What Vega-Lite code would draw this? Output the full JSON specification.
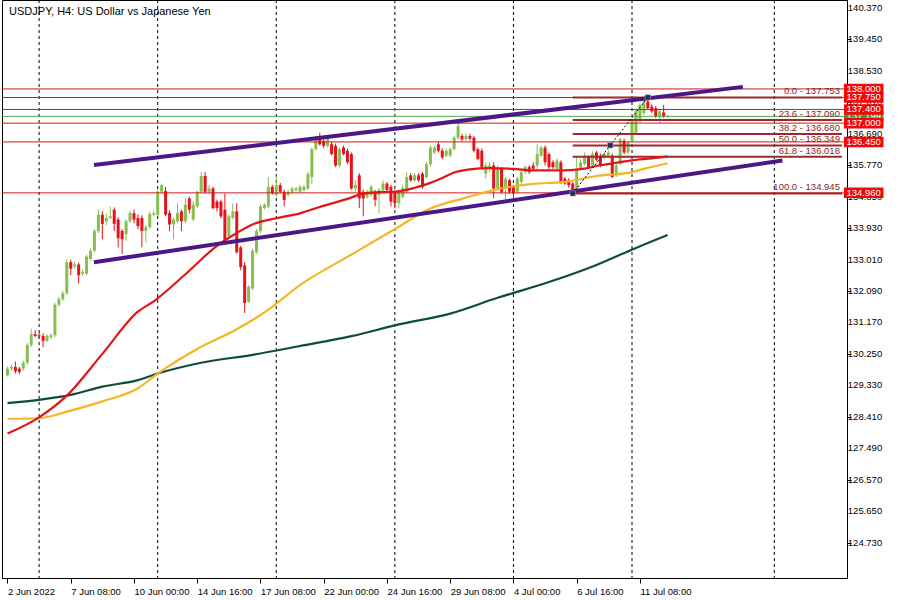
{
"$schema": "https://vega.github.io/schema/vega-lite/v6.json",
"width": 845, "height": 578,
"autosize": {"type": "none"},
"padding": {"left": 2, "top": 0, "right": 53, "bottom": 22},
"background": "#ffffff",
"config": {"view": {"stroke": "#000000", "strokeWidth": 1}, "font": "Liberation Sans", "axis": {"labelOverlap": false, "labelFlush": false, "zindex": 0, "grid": false, "title": null}},
"datasets": {
"candles": [
{"i":-8,"o":129.625,"h":129.875,"l":129.588,"c":129.818},
{"i":-7,"o":129.818,"h":129.933,"l":129.760,"c":129.867},
{"i":-6,"o":129.867,"h":130.028,"l":129.674,"c":129.740},
{"i":-5,"o":129.818,"h":129.875,"l":129.654,"c":129.723},
{"i":-4,"o":129.818,"h":130.048,"l":129.760,"c":129.990},
{"i":-3,"o":129.990,"h":130.565,"l":129.933,"c":130.508},
{"i":-2,"o":130.508,"h":130.988,"l":130.450,"c":130.824},
{"i":-1,"o":130.824,"h":130.948,"l":130.738,"c":130.775},
{"i":0,"o":130.795,"h":130.882,"l":130.709,"c":130.767},
{"i":1,"o":130.775,"h":130.853,"l":130.442,"c":130.631},
{"i":2,"o":130.631,"h":130.824,"l":130.594,"c":130.775},
{"i":3,"o":130.729,"h":130.853,"l":130.680,"c":130.795},
{"i":4,"o":130.795,"h":131.744,"l":130.738,"c":131.687},
{"i":5,"o":131.687,"h":131.917,"l":131.629,"c":131.851},
{"i":6,"o":131.851,"h":132.089,"l":131.802,"c":132.023},
{"i":7,"o":132.023,"h":133.009,"l":131.974,"c":132.932},
{"i":8,"o":132.932,"h":133.009,"l":132.549,"c":132.742},
{"i":9,"o":132.808,"h":132.952,"l":132.750,"c":132.865},
{"i":10,"o":132.865,"h":132.923,"l":132.311,"c":132.549},
{"i":11,"o":132.598,"h":132.722,"l":132.520,"c":132.644},
{"i":12,"o":132.598,"h":133.153,"l":132.549,"c":133.095},
{"i":13,"o":133.029,"h":133.326,"l":132.980,"c":133.268},
{"i":14,"o":133.268,"h":133.901,"l":133.219,"c":133.843},
{"i":15,"o":133.843,"h":134.467,"l":133.786,"c":134.323},
{"i":16,"o":134.323,"h":134.418,"l":133.604,"c":134.053},
{"i":17,"o":134.131,"h":134.361,"l":134.016,"c":134.225},
{"i":18,"o":134.225,"h":134.562,"l":134.188,"c":134.274},
{"i":19,"o":134.467,"h":134.533,"l":133.843,"c":134.053},
{"i":20,"o":134.179,"h":134.246,"l":133.363,"c":133.633},
{"i":21,"o":133.843,"h":133.901,"l":133.173,"c":133.604},
{"i":22,"o":133.748,"h":134.188,"l":133.556,"c":134.131},
{"i":23,"o":134.131,"h":134.438,"l":134.073,"c":134.369},
{"i":24,"o":134.369,"h":134.476,"l":134.073,"c":134.179},
{"i":25,"o":134.225,"h":134.332,"l":133.901,"c":133.987},
{"i":26,"o":134.225,"h":134.303,"l":133.363,"c":133.843},
{"i":27,"o":133.843,"h":134.016,"l":133.507,"c":133.958},
{"i":28,"o":133.958,"h":134.418,"l":133.901,"c":134.340},
{"i":29,"o":134.323,"h":134.447,"l":134.274,"c":134.369},
{"i":30,"o":134.323,"h":135.051,"l":134.274,"c":134.993},
{"i":31,"o":134.993,"h":135.232,"l":134.936,"c":135.186},
{"i":32,"o":135.013,"h":135.137,"l":134.274,"c":134.323},
{"i":33,"o":134.369,"h":134.447,"l":133.843,"c":134.036},
{"i":34,"o":134.036,"h":134.246,"l":133.604,"c":134.179},
{"i":35,"o":134.131,"h":134.657,"l":134.073,"c":134.369},
{"i":36,"o":134.418,"h":134.476,"l":133.843,"c":134.131},
{"i":37,"o":134.131,"h":134.800,"l":134.073,"c":134.611},
{"i":38,"o":134.800,"h":134.849,"l":134.361,"c":134.467},
{"i":39,"o":134.179,"h":134.706,"l":134.131,"c":134.611},
{"i":40,"o":134.562,"h":135.022,"l":134.504,"c":134.993},
{"i":41,"o":134.993,"h":135.568,"l":134.936,"c":135.453},
{"i":42,"o":135.453,"h":135.568,"l":134.936,"c":134.993},
{"i":43,"o":134.993,"h":135.194,"l":134.936,"c":135.088},
{"i":44,"o":135.088,"h":135.137,"l":134.476,"c":134.513},
{"i":45,"o":134.706,"h":134.763,"l":134.418,"c":134.513},
{"i":46,"o":134.706,"h":134.763,"l":134.217,"c":134.274},
{"i":47,"o":134.467,"h":134.944,"l":133.498,"c":133.556},
{"i":48,"o":133.699,"h":134.332,"l":133.642,"c":134.274},
{"i":49,"o":134.225,"h":134.657,"l":134.188,"c":134.418},
{"i":50,"o":134.418,"h":134.657,"l":133.182,"c":133.219},
{"i":51,"o":133.363,"h":133.412,"l":132.693,"c":132.788},
{"i":52,"o":132.837,"h":132.923,"l":131.448,"c":131.736},
{"i":53,"o":131.782,"h":132.262,"l":131.736,"c":132.213},
{"i":54,"o":132.167,"h":133.326,"l":132.118,"c":133.268},
{"i":55,"o":133.219,"h":133.901,"l":133.182,"c":133.843},
{"i":56,"o":133.843,"h":134.619,"l":133.786,"c":134.562},
{"i":57,"o":134.513,"h":134.657,"l":134.476,"c":134.611},
{"i":58,"o":134.562,"h":135.424,"l":134.504,"c":135.137},
{"i":59,"o":135.137,"h":135.194,"l":134.907,"c":134.944},
{"i":60,"o":134.898,"h":135.473,"l":134.849,"c":135.186},
{"i":61,"o":135.186,"h":135.252,"l":134.936,"c":134.993},
{"i":62,"o":134.993,"h":135.051,"l":134.562,"c":134.754},
{"i":63,"o":134.898,"h":135.051,"l":134.849,"c":134.993},
{"i":64,"o":134.993,"h":135.137,"l":134.936,"c":135.088},
{"i":65,"o":135.042,"h":135.137,"l":134.993,"c":135.088},
{"i":66,"o":134.993,"h":135.194,"l":134.964,"c":135.137},
{"i":67,"o":135.042,"h":135.194,"l":134.993,"c":135.137},
{"i":68,"o":135.088,"h":135.568,"l":135.051,"c":135.519},
{"i":69,"o":135.424,"h":136.287,"l":135.223,"c":136.238},
{"i":70,"o":136.238,"h":136.632,"l":136.201,"c":136.575},
{"i":71,"o":136.575,"h":136.718,"l":136.344,"c":136.382},
{"i":72,"o":136.480,"h":136.546,"l":136.258,"c":136.336},
{"i":73,"o":136.336,"h":136.632,"l":136.287,"c":136.575},
{"i":74,"o":136.382,"h":136.459,"l":136.057,"c":136.094},
{"i":75,"o":136.336,"h":136.402,"l":135.712,"c":135.761},
{"i":76,"o":135.761,"h":136.287,"l":135.712,"c":136.238},
{"i":77,"o":136.287,"h":136.344,"l":136.057,"c":136.094},
{"i":78,"o":136.192,"h":136.258,"l":135.798,"c":135.856},
{"i":79,"o":136.094,"h":136.143,"l":135.051,"c":135.088},
{"i":80,"o":135.088,"h":135.338,"l":134.993,"c":135.194},
{"i":81,"o":135.473,"h":135.539,"l":134.513,"c":134.800},
{"i":82,"o":134.993,"h":135.051,"l":134.274,"c":134.800},
{"i":83,"o":134.849,"h":135.051,"l":134.792,"c":134.993},
{"i":84,"o":134.898,"h":135.194,"l":134.849,"c":135.137},
{"i":85,"o":134.993,"h":135.051,"l":134.562,"c":134.754},
{"i":86,"o":134.898,"h":135.108,"l":134.369,"c":135.042},
{"i":87,"o":135.042,"h":135.330,"l":134.993,"c":135.232},
{"i":88,"o":135.232,"h":135.281,"l":134.993,"c":135.042},
{"i":89,"o":135.137,"h":135.194,"l":134.562,"c":134.706},
{"i":90,"o":134.993,"h":135.051,"l":134.504,"c":134.657},
{"i":91,"o":134.657,"h":135.051,"l":134.513,"c":134.993},
{"i":92,"o":134.849,"h":135.194,"l":134.792,"c":135.108},
{"i":93,"o":134.993,"h":135.568,"l":134.936,"c":135.424},
{"i":94,"o":135.473,"h":135.539,"l":135.281,"c":135.330},
{"i":95,"o":135.330,"h":135.539,"l":135.281,"c":135.473},
{"i":96,"o":135.473,"h":135.539,"l":135.281,"c":135.330},
{"i":97,"o":135.519,"h":135.568,"l":135.079,"c":135.137},
{"i":98,"o":135.424,"h":135.856,"l":135.376,"c":135.798},
{"i":99,"o":135.798,"h":136.344,"l":135.712,"c":136.287},
{"i":100,"o":136.143,"h":136.344,"l":136.094,"c":136.287},
{"i":101,"o":136.382,"h":136.459,"l":136.143,"c":136.192},
{"i":102,"o":136.192,"h":136.258,"l":135.942,"c":135.999},
{"i":103,"o":136.048,"h":136.258,"l":135.999,"c":136.192},
{"i":104,"o":136.048,"h":136.287,"l":135.999,"c":136.238},
{"i":105,"o":136.238,"h":136.632,"l":136.201,"c":136.575},
{"i":106,"o":136.575,"h":137.006,"l":136.517,"c":136.911},
{"i":107,"o":136.623,"h":136.689,"l":136.480,"c":136.526},
{"i":108,"o":136.526,"h":136.689,"l":136.488,"c":136.623},
{"i":109,"o":136.623,"h":136.689,"l":136.488,"c":136.546},
{"i":110,"o":136.575,"h":136.632,"l":136.143,"c":136.192},
{"i":111,"o":136.238,"h":136.287,"l":135.913,"c":135.951},
{"i":112,"o":136.192,"h":136.258,"l":135.654,"c":135.712},
{"i":113,"o":135.519,"h":135.856,"l":135.376,"c":135.761},
{"i":114,"o":135.663,"h":135.856,"l":135.568,"c":135.761},
{"i":115,"o":135.761,"h":135.856,"l":134.800,"c":135.088},
{"i":116,"o":135.088,"h":135.769,"l":135.042,"c":135.663},
{"i":117,"o":135.663,"h":135.712,"l":134.936,"c":134.993},
{"i":118,"o":135.088,"h":135.424,"l":134.754,"c":135.376},
{"i":119,"o":135.330,"h":135.376,"l":134.936,"c":134.993},
{"i":120,"o":135.137,"h":135.194,"l":134.754,"c":134.944},
{"i":121,"o":134.993,"h":135.424,"l":134.936,"c":135.376},
{"i":122,"o":135.281,"h":135.626,"l":135.223,"c":135.568},
{"i":123,"o":135.568,"h":135.769,"l":135.511,"c":135.712},
{"i":124,"o":135.712,"h":135.769,"l":135.511,"c":135.568},
{"i":125,"o":135.761,"h":135.856,"l":135.626,"c":135.663},
{"i":126,"o":135.761,"h":136.382,"l":135.654,"c":136.094},
{"i":127,"o":136.048,"h":136.344,"l":135.999,"c":136.287},
{"i":128,"o":136.287,"h":136.344,"l":135.761,"c":135.856},
{"i":129,"o":136.094,"h":136.143,"l":135.654,"c":135.712},
{"i":130,"o":135.856,"h":135.913,"l":135.654,"c":135.712},
{"i":131,"o":135.663,"h":135.971,"l":135.626,"c":135.905},
{"i":132,"o":135.856,"h":135.913,"l":135.223,"c":135.281},
{"i":133,"o":135.376,"h":135.424,"l":135.194,"c":135.232},
{"i":134,"o":135.330,"h":135.396,"l":135.108,"c":135.186},
{"i":135,"o":135.232,"h":135.281,"l":134.945,"c":134.993},
{"i":136,"o":135.042,"h":135.999,"l":134.993,"c":135.663},
{"i":137,"o":135.663,"h":135.951,"l":135.626,"c":135.856},
{"i":138,"o":135.807,"h":136.143,"l":135.769,"c":136.048},
{"i":139,"o":135.999,"h":136.057,"l":135.683,"c":135.712},
{"i":140,"o":135.761,"h":136.172,"l":135.712,"c":136.094},
{"i":141,"o":136.143,"h":136.192,"l":135.884,"c":135.933},
{"i":142,"o":136.048,"h":136.114,"l":135.712,"c":135.761},
{"i":143,"o":135.999,"h":136.143,"l":135.942,"c":136.094},
{"i":144,"o":136.048,"h":136.229,"l":135.971,"c":136.143},
{"i":145,"o":136.048,"h":136.114,"l":135.396,"c":135.424},
{"i":146,"o":135.473,"h":135.856,"l":135.424,"c":135.761},
{"i":147,"o":135.807,"h":136.575,"l":135.769,"c":136.526},
{"i":148,"o":136.480,"h":136.546,"l":136.086,"c":136.143},
{"i":149,"o":136.143,"h":136.488,"l":136.086,"c":136.431},
{"i":150,"o":136.480,"h":137.121,"l":136.431,"c":137.055},
{"i":151,"o":136.718,"h":137.408,"l":136.661,"c":137.342},
{"i":152,"o":137.055,"h":137.581,"l":137.006,"c":137.532},
{"i":153,"o":137.293,"h":137.725,"l":137.236,"c":137.630},
{"i":154,"o":137.630,"h":137.753,"l":137.380,"c":137.437},
{"i":155,"o":137.486,"h":137.552,"l":137.293,"c":137.342},
{"i":156,"o":137.437,"h":137.495,"l":137.150,"c":137.198},
{"i":157,"o":137.198,"h":137.408,"l":137.006,"c":137.342},
{"i":158,"o":137.313,"h":137.532,"l":137.150,"c":137.198},
{"i":159,"o":137.198,"h":137.236,"l":137.164,"c":137.199}
],
"ma": [
{"k":"teal","i":-8,"v":128.811},{"k":"teal","i":0,"v":128.906},{"k":"teal","i":8,"v":129.050},{"k":"teal","i":16,"v":129.292},{"k":"teal","i":25,"v":129.481},{"k":"teal","i":30,"v":129.674},{"k":"teal","i":41,"v":129.990},{"k":"teal","i":54,"v":130.220},{"k":"teal","i":66,"v":130.479},{"k":"teal","i":79,"v":130.767},{"k":"teal","i":91,"v":131.112},{"k":"teal","i":104,"v":131.428},{"k":"teal","i":116,"v":131.890},{"k":"teal","i":129,"v":132.350},{"k":"teal","i":141,"v":132.850},{"k":"teal","i":151,"v":133.350},{"k":"teal","i":159,"v":133.728},
{"k":"orange","i":-8,"v":128.351},{"k":"orange","i":0,"v":128.366},{"k":"orange","i":8,"v":128.590},{"k":"orange","i":16,"v":128.860},{"k":"orange","i":25,"v":129.243},{"k":"orange","i":30,"v":129.674},{"k":"orange","i":40,"v":130.393},{"k":"orange","i":50,"v":130.968},{"k":"orange","i":58,"v":131.543},{"k":"orange","i":66,"v":132.262},{"k":"orange","i":79,"v":133.153},{"k":"orange","i":90,"v":133.901},{"k":"orange","i":99,"v":134.504},{"k":"orange","i":108,"v":134.821},{"k":"orange","i":115,"v":135.042},{"k":"orange","i":125,"v":135.223},{"k":"orange","i":133,"v":135.281},{"k":"orange","i":141,"v":135.453},{"k":"orange","i":150,"v":135.568},{"k":"orange","i":153,"v":135.663},{"k":"orange","i":159,"v":135.827},
{"k":"red","i":-8,"v":127.920},{"k":"red","i":0,"v":128.394},{"k":"red","i":7,"v":129.027},{"k":"red","i":16,"v":130.249},{"k":"red","i":25,"v":131.485},{"k":"red","i":29,"v":131.787},{"k":"red","i":37,"v":132.578},{"k":"red","i":45,"v":133.412},{"k":"red","i":50,"v":133.786},{"k":"red","i":54,"v":134.036},{"k":"red","i":60,"v":134.217},{"k":"red","i":66,"v":134.361},{"k":"red","i":71,"v":134.548},{"k":"red","i":78,"v":134.783},{"k":"red","i":82,"v":134.936},{"k":"red","i":86,"v":134.979},{"k":"red","i":90,"v":134.993},{"k":"red","i":95,"v":135.108},{"k":"red","i":99,"v":135.252},{"k":"red","i":102,"v":135.396},{"k":"red","i":105,"v":135.554},{"k":"red","i":109,"v":135.646},{"k":"red","i":114,"v":135.683},{"k":"red","i":120,"v":135.663},{"k":"red","i":125,"v":135.617},{"k":"red","i":133,"v":135.617},{"k":"red","i":138,"v":135.669},{"k":"red","i":142,"v":135.769},{"k":"red","i":146,"v":135.841},{"k":"red","i":150,"v":135.913},{"k":"red","i":155,"v":135.971},{"k":"red","i":159,"v":136.028}
],
"seps": [{"i":0},{"i":30},{"i":60},{"i":90},{"i":120},{"i":150},{"i":186}],
"yticks": [{"p":140.37,"t":"140.370"},{"p":139.45,"t":"139.450"},{"p":138.53,"t":"138.530"},{"p":137.61,"t":"137.610"},{"p":136.69,"t":"136.690"},{"p":135.77,"t":"135.770"},{"p":134.85,"t":"134.850"},{"p":133.93,"t":"133.930"},{"p":133.01,"t":"133.010"},{"p":132.09,"t":"132.090"},{"p":131.17,"t":"131.170"},{"p":130.25,"t":"130.250"},{"p":129.33,"t":"129.330"},{"p":128.41,"t":"128.410"},{"p":127.49,"t":"127.490"},{"p":126.57,"t":"126.570"},{"p":125.65,"t":"125.650"},{"p":124.73,"t":"124.730"}],
"levels": [{"p":138.000,"t":"138.000"},{"p":137.750,"t":"137.750"},{"p":137.400,"t":"137.400"},{"p":137.000,"t":"137.000"},{"p":136.450,"t":"136.450"},{"p":134.960,"t":"134.960"}],
"bid": [{"p":137.199,"t":"137.199"}],
"fib": [{"p":137.753,"t":"0.0 - 137.753"},{"p":137.090,"t":"23.6 - 137.090"},{"p":136.680,"t":"38.2 - 136.680"},{"p":136.349,"t":"50.0 - 136.349"},{"p":136.018,"t":"61.8 - 136.018"},{"p":134.945,"t":"100.0 - 134.945"}],
"fibdiag": [{"i":135,"p":134.945},{"i":144.5,"p":136.349},{"i":154,"p":137.753}],
"channel": [{"k":"upper","i":13.875,"p":135.778},{"k":"upper","i":178.05,"p":138.061},{"k":"lower","i":13.875,"p":132.932},{"k":"lower","i":188.05,"p":135.905}]
},
"layer": [
{"data":{"name":"seps"},"mark":{"type":"rule","color":"#000000","strokeWidth":1,"strokeDash":[3,3]},
 "encoding":{"x":{"field":"i","type":"quantitative","title":null,"scale":{"domain":[-8.125,203.125],"nice":false,"zero":false},
  "axis":{"values":[-8,8,24,40,56,72,88,104,120,136,152],"labelExpr":"{'-8':'2 Jun 2022','8':'7 Jun 08:00','24':'10 Jun 00:00','40':'14 Jun 16:00','56':'17 Jun 08:00','72':'22 Jun 00:00','88':'24 Jun 16:00','104':'29 Jun 08:00','120':'4 Jul 00:00','136':'6 Jul 16:00','152':'11 Jul 08:00'}[datum.value]","labelAlign":"left","labelBaseline":"top","labelPadding":3,"labelOffset":0,"tickSize":5,"tickColor":"#000000","domainColor":"#000000","labelColor":"#000000","labelFontSize":9.5,"labelFont":"Liberation Sans","grid":false,"labelFlush":false,"labelOverlap":false,"title":null}}}},
{"data":{"name":"candles"},"mark":{"type":"rule","strokeWidth":1},
 "encoding":{"x":{"field":"i","type":"quantitative","title":null,"scale":{"domain":[-8.125,203.125],"nice":false,"zero":false}},
  "y":{"field":"l","type":"quantitative","title":null,"scale":{"domain":[123.839,140.456],"nice":false,"zero":false},
   "axis":{"orient":"right","values":[140.37,139.45,138.53,137.61,136.69,135.77,134.85,133.93,133.01,132.09,131.17,130.25,129.33,128.41,127.49,126.57,125.65,124.73],"labels":false,"tickSize":4,"tickColor":"#000000","domainColor":"#000000","grid":false,"title":null,"zindex":0}},
  "y2":{"field":"h"},
  "color":{"condition":{"test":"datum.c >= datum.o","value":"#86bf4e"},"value":"#e5131b"}}},
{"data":{"name":"candles"},"mark":{"type":"bar","width":3},
 "encoding":{"x":{"field":"i","type":"quantitative","title":null,"scale":{"domain":[-8.125,203.125],"nice":false,"zero":false}},
  "y":{"field":"o","type":"quantitative","title":null,"scale":{"domain":[123.839,140.456],"nice":false,"zero":false}},
  "y2":{"field":"c"},
  "color":{"condition":{"test":"datum.c >= datum.o","value":"#86bf4e"},"value":"#e5131b"}}},
{"data":{"name":"levels"},"mark":{"type":"rule","color":"#d01818","strokeWidth":1},
 "encoding":{"y":{"field":"p","type":"quantitative","title":null,"scale":{"domain":[123.839,140.456],"nice":false,"zero":false}}}},
{"data":{"name":"bid"},"mark":{"type":"rule","color":"#4caa4c","strokeWidth":1},
 "encoding":{"y":{"field":"p","type":"quantitative","title":null,"scale":{"domain":[123.839,140.456],"nice":false,"zero":false}}}},
{"data":{"name":"fib"},"mark":{"type":"rule","color":"#9c2a2c","strokeWidth":2},
 "encoding":{"x":{"datum":135,"type":"quantitative","scale":{"domain":[-8.125,203.125],"nice":false,"zero":false}},"x2":{"datum":203.125},
  "y":{"field":"p","type":"quantitative","title":null,"scale":{"domain":[123.839,140.456],"nice":false,"zero":false}}}},
{"data":{"name":"ma"},"mark":{"type":"line","strokeWidth":2.2,"interpolate":"monotone"},
 "encoding":{"x":{"field":"i","type":"quantitative","title":null,"scale":{"domain":[-8.125,203.125],"nice":false,"zero":false}},
  "y":{"field":"v","type":"quantitative","title":null,"scale":{"domain":[123.839,140.456],"nice":false,"zero":false}},
  "color":{"field":"k","type":"nominal","scale":{"domain":["teal","orange","red"],"range":["#0e4d3c","#f4b526","#e0161b"]},"legend":null}}},
{"data":{"name":"channel"},"mark":{"type":"line","strokeWidth":4,"color":"#4c1787","strokeCap":"butt"},
 "encoding":{"x":{"field":"i","type":"quantitative","title":null,"scale":{"domain":[-8.125,203.125],"nice":false,"zero":false}},
  "y":{"field":"p","type":"quantitative","title":null,"scale":{"domain":[123.839,140.456],"nice":false,"zero":false}},
  "detail":{"field":"k"}}},
{"data":{"name":"fibdiag"},"mark":{"type":"line","strokeWidth":1,"color":"#000000","strokeDash":[2,2]},
 "encoding":{"x":{"field":"i","type":"quantitative","title":null,"scale":{"domain":[-8.125,203.125],"nice":false,"zero":false}},
  "y":{"field":"p","type":"quantitative","title":null,"scale":{"domain":[123.839,140.456],"nice":false,"zero":false}}}},
{"data":{"name":"fibdiag"},"mark":{"type":"point","shape":"square","size":28,"filled":true,"color":"#25304d","stroke":"#9aa6c4","strokeWidth":0.6,"opacity":1},
 "encoding":{"x":{"field":"i","type":"quantitative","title":null,"scale":{"domain":[-8.125,203.125],"nice":false,"zero":false}},
  "y":{"field":"p","type":"quantitative","title":null,"scale":{"domain":[123.839,140.456],"nice":false,"zero":false}}}},
{"data":{"name":"fib"},"mark":{"type":"text","align":"right","baseline":"bottom","dy":-1,"fontSize":9.5,"font":"Liberation Sans","color":"#8b1e1e"},
 "encoding":{"x":{"datum":202.6,"type":"quantitative","scale":{"domain":[-8.125,203.125],"nice":false,"zero":false}},
  "y":{"field":"p","type":"quantitative","title":null,"scale":{"domain":[123.839,140.456],"nice":false,"zero":false}},
  "text":{"field":"t"}}},
{"data":{"values":[{"t":"USDJPY, H4:  US Dollar vs Japanese Yen"}]},"mark":{"type":"text","align":"left","baseline":"middle","fontSize":11,"font":"Liberation Sans","color":"#000000"},
 "encoding":{"x":{"datum":-7.6,"type":"quantitative","scale":{"domain":[-8.125,203.125],"nice":false,"zero":false}},
  "y":{"datum":140.25,"type":"quantitative","scale":{"domain":[123.839,140.456],"nice":false,"zero":false}},
  "text":{"field":"t"}}},
{"data":{"name":"yticks"},"mark":{"type":"text","align":"left","baseline":"middle","fontSize":9.5,"font":"Liberation Sans","color":"#000000"},
 "encoding":{"x":{"datum":204.6,"type":"quantitative","scale":{"domain":[-8.125,203.125],"nice":false,"zero":false}},
  "y":{"field":"p","type":"quantitative","title":null,"scale":{"domain":[123.839,140.456],"nice":false,"zero":false}},
  "text":{"field":"t"}}},
{"data":{"name":"bid"},"mark":{"type":"bar","height":10,"color":"#3f9a3f"},
 "encoding":{"x":{"datum":203.625,"type":"quantitative","scale":{"domain":[-8.125,203.125],"nice":false,"zero":false}},"x2":{"datum":213.625},
  "y":{"field":"p","type":"quantitative","title":null,"scale":{"domain":[123.839,140.456],"nice":false,"zero":false}}}},
{"data":{"name":"bid"},"mark":{"type":"text","align":"center","baseline":"middle","fontSize":9.5,"font":"Liberation Sans","color":"#ffffff"},
 "encoding":{"x":{"datum":208.6,"type":"quantitative","scale":{"domain":[-8.125,203.125],"nice":false,"zero":false}},
  "y":{"field":"p","type":"quantitative","title":null,"scale":{"domain":[123.839,140.456],"nice":false,"zero":false}},
  "text":{"field":"t"}}},
{"data":{"name":"levels"},"mark":{"type":"bar","height":10.5,"color":"#ee0a0a"},
 "encoding":{"x":{"datum":203.625,"type":"quantitative","scale":{"domain":[-8.125,203.125],"nice":false,"zero":false}},"x2":{"datum":213.625},
  "y":{"field":"p","type":"quantitative","title":null,"scale":{"domain":[123.839,140.456],"nice":false,"zero":false}}}},
{"data":{"name":"levels"},"mark":{"type":"text","align":"center","baseline":"middle","fontSize":9.5,"font":"Liberation Sans","color":"#ffffff"},
 "encoding":{"x":{"datum":208.6,"type":"quantitative","scale":{"domain":[-8.125,203.125],"nice":false,"zero":false}},
  "y":{"field":"p","type":"quantitative","title":null,"scale":{"domain":[123.839,140.456],"nice":false,"zero":false}},
  "text":{"field":"t"}}}
]
}
